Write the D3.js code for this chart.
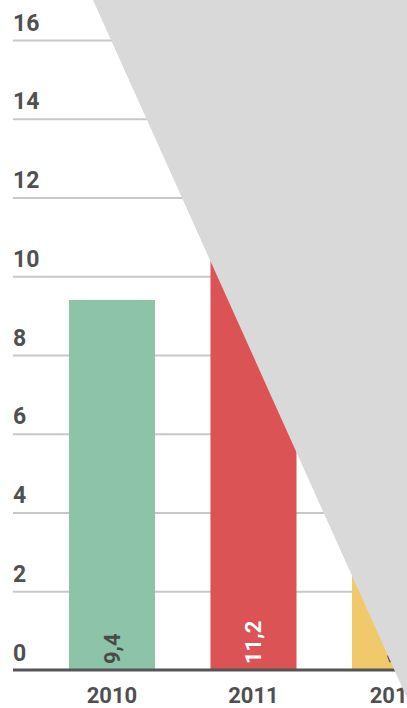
<!DOCTYPE html>
<html>
<head>
<meta charset="utf-8">
<script src="https://cdn.jsdelivr.net/npm/d3@7"></script>
<style>
html,body{margin:0;padding:0;background:#fff;}
svg{display:block;}
text{font-family:Roboto,"Noto Sans",sans-serif;font-weight:700;}
</style>
</head>
<body>
<script>
const categories = ["2010", "2011", "2012"];
const values = [9.4, 11.2, 12.5];
const labels = ["9,4", "11,2", "12,5"];
const colors = ["#8dc3a8", "#dc5355", "#f0ca6a"];
const labelColors = ["#4a4a4a", "#ffffff", "#4a4a4a"];
const yTicks = [0, 2, 4, 6, 8, 10, 12, 14, 16];

const W = 407, H = 708;
const svg = d3.select("body").append("svg").attr("width", W).attr("height", H);

const y = d3.scaleLinear().domain([0, 16]).range([670, 40]);
const x = d3.scaleBand().domain(categories).range([41.25, 465.75])
  .paddingInner(0.392).paddingOuter(0.196);

const gridLeft = 13;

// gridlines
const grid = d3.axisLeft(y).tickValues(yTicks.filter(d => d > 0))
  .tickSize(-(W - gridLeft)).tickFormat("");
svg.append("g").attr("transform", `translate(${gridLeft},0)`).call(grid)
  .call(g => g.select(".domain").remove())
  .call(g => g.selectAll("line").attr("stroke", "#c8c8c8").attr("stroke-width", 2));

// y labels
svg.append("g").selectAll("text").data(yTicks).join("text")
  .attr("x", gridLeft).attr("y", d => y(d) - 9.5)
  .attr("font-size", 23).attr("fill", "#505050").text(d => d);

// bars
svg.append("g").selectAll("rect").data(categories).join("rect")
  .attr("x", d => x(d)).attr("width", x.bandwidth())
  .attr("y", (d, i) => y(values[i])).attr("height", (d, i) => y(0) - y(values[i]))
  .attr("fill", (d, i) => colors[i]);

// value labels (rotated)
svg.append("g").selectAll("text").data(categories).join("text")
  .attr("transform", d => `translate(${x(d) + x.bandwidth() / 2},${y(0) - 6}) rotate(-90)`)
  .attr("dy", "0.36em").attr("text-anchor", "start")
  .attr("font-size", 22).attr("fill", (d, i) => labelColors[i])
  .text((d, i) => labels[i]);

// baseline
svg.append("line").attr("x1", gridLeft).attr("x2", W).attr("y1", y(0)).attr("y2", y(0))
  .attr("stroke", "#555").attr("stroke-width", 3);

// x labels
svg.append("g").selectAll("text").data(categories).join("text")
  .attr("x", d => x(d) + x.bandwidth() / 2).attr("y", 703)
  .attr("text-anchor", "middle").attr("font-size", 22).attr("fill", "#505050")
  .text(d => d);

// occluding gray overlay
svg.append("polygon")
  .attr("points", [[93, 0], [W, 0], [W, 698]].map(p => p.join(",")).join(" "))
  .attr("fill", "#d9d9d9");
</script>
</body>
</html>
